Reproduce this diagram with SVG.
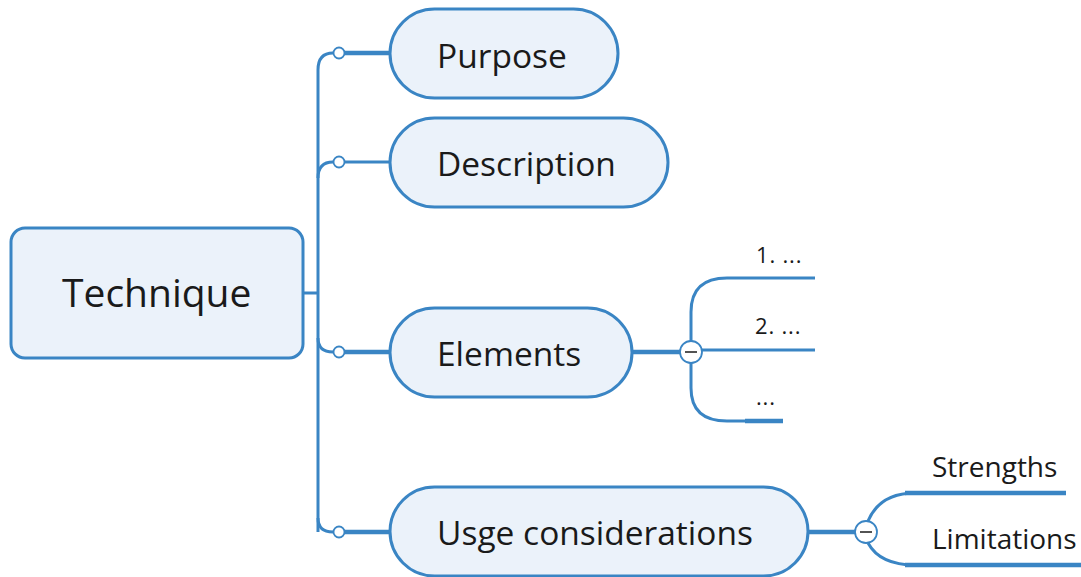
<svg xmlns="http://www.w3.org/2000/svg" width="1081" height="577" viewBox="0 0 1081 577">
<style>
.box{fill:#ebf2fa;stroke:#3a85c4;stroke-width:3}
.ln{fill:none;stroke:#3a85c4;stroke-width:3}
.th{fill:none;stroke:#3a85c4;stroke-width:4.5}
.dot{fill:#ffffff;stroke:#3a85c4;stroke-width:1.8}
.t{font-family:"Open Sans","Noto Sans",sans-serif;fill:#1a1a1a}
.p{font-size:33.5px}
.s{font-size:28px}
.i{font-size:22px;letter-spacing:0.8px}
</style>
<rect width="1081" height="577" fill="#ffffff"/>
<g id="connectors">
<path class="ln" d="M303 293 H318"/>
<path class="ln" d="M318 532 V70 Q318 53 333 53"/>
<path class="ln" d="M318 178 Q318 162 333 162"/>
<path class="ln" d="M318 338 Q318 352 333 352"/>
<path class="ln" d="M318 518 Q318 532 333 532"/>
<path class="th" d="M339 53 H390"/>
<path class="ln" d="M339 162 H390"/>
<path class="th" d="M339 352 H390"/>
<path class="th" d="M339 532 H390"/>
<circle class="dot" cx="339" cy="53" r="5.5"/>
<circle class="dot" cx="339" cy="162" r="5.5"/>
<circle class="dot" cx="339" cy="352" r="5.5"/>
<circle class="dot" cx="339" cy="532" r="5.5"/>
<path class="th" d="M632 352 H691"/>
<path class="ln" d="M691 341 V312 Q691 278 727 278 H815"/>
<path class="ln" d="M702 350 H815"/>
<path class="ln" d="M691 363 V388 Q691 421 727 421 H760"/>
<path class="th" d="M745 421 H783"/>
<circle class="dot" cx="691" cy="352" r="11"/>
<path d="M685 352 H697" stroke="#1a1a1a" stroke-width="1.5"/>
<path class="th" d="M808 532 H866"/>
<path class="ln" d="M868 521 Q880 493 915 493"/>
<path class="th" d="M905 493 H1066"/>
<path class="ln" d="M868 543 Q880 565 915 565"/>
<path class="th" d="M905 565 H1081"/>
<circle class="dot" cx="866" cy="532" r="11"/>
<path d="M860 532 H872" stroke="#1a1a1a" stroke-width="1.5"/>
</g>
<g id="technique">
<rect class="box" x="11" y="228" width="292" height="130" rx="14"/>
<text class="t" x="62" y="307" font-size="39">Technique</text>
</g>
<g id="purpose">
<rect class="box" x="390" y="9" width="228" height="89" rx="44.5"/>
<text class="t p" x="437" y="68">Purpose</text>
</g>
<g id="description">
<rect class="box" x="390" y="118" width="278" height="89" rx="44.5"/>
<text class="t p" x="437" y="176">Description</text>
</g>
<g id="elements">
<rect class="box" x="390" y="308" width="242" height="89" rx="44.5"/>
<text class="t p" x="437" y="366">Elements</text>
</g>
<g id="usage">
<rect class="box" x="390" y="487" width="418" height="89" rx="44.5"/>
<text class="t p" x="437" y="545">Usge considerations</text>
</g>
<g id="item1"><text class="t i" x="756" y="263">1. ...</text></g>
<g id="item2"><text class="t i" x="755" y="334">2. ...</text></g>
<g id="item3"><text class="t i" x="756" y="405">...</text></g>
<g id="strengths"><text class="t s" x="932" y="477">Strengths</text></g>
<g id="limitations"><text class="t s" x="932" y="549">Limitations</text></g>
</svg>
